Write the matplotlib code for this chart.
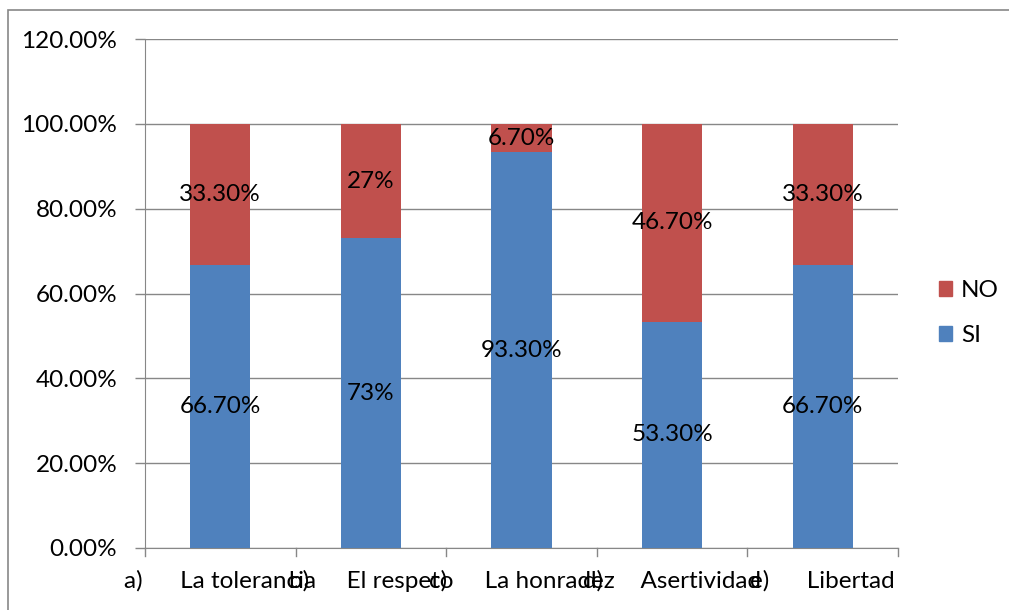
import matplotlib.pyplot as plt
from matplotlib.patches import Rectangle, Patch

plt.rcParams["font.family"] = ["Lato", "DejaVu Sans"]

# Chart data
letters = ["a)", "b)", "c)", "d)", "e)"]
names = ["La tolerancia", "El respeto", "La honradez", "Asertividad", "Libertad"]
si_values = [66.7, 73.0, 93.3, 53.3, 66.7]
no_values = [33.3, 27.0, 6.7, 46.7, 33.3]
si_labels = ["66.70%", "73%", "93.30%", "53.30%", "66.70%"]
no_labels = ["33.30%", "27%", "6.70%", "46.70%", "33.30%"]
y_ticks = [0, 20, 40, 60, 80, 100, 120]

blue = "#4F81BD"
red = "#C0504D"
gray = "#878787"
fs = 17.5

fig = plt.figure(figsize=(10.09, 6.10), dpi=100)
ax = fig.add_axes([145 / 1009, 1 - 548 / 610, (898 - 145) / 1009, (548 - 39) / 610])

x = list(range(len(names)))
ax.bar(x, si_values, width=0.4, color=blue, zorder=3)
ax.bar(x, no_values, width=0.4, bottom=si_values, color=red, zorder=3)

# value labels in the middle of each segment
for i in x:
    ax.text(i, si_values[i] / 2, si_labels[i], ha="center", va="center",
            fontsize=fs, zorder=4)
    ax.text(i, si_values[i] + no_values[i] / 2, no_labels[i], ha="center",
            va="center", fontsize=fs, zorder=4)

ax.set_xlim(-0.5, len(names) - 0.5)
ax.set_ylim(0, 120)
ax.set_yticks(y_ticks)
ax.set_yticklabels([f"{v:.2f}%" for v in y_ticks], fontsize=fs)
ax.yaxis.grid(True, color=gray, linewidth=1, zorder=0)

# category labels centred, tick marks between categories
ax.set_xticks(x)
ax.set_xticklabels([f"{l}      {n}" for l, n in zip(letters, names)], fontsize=fs)
ax.tick_params(axis="x", length=0, pad=16)
for b in [i - 0.5 for i in range(len(names) + 1)]:
    ax.plot([b, b], [0, -0.016], transform=ax.get_xaxis_transform(),
            color=gray, linewidth=1, clip_on=False)
ax.tick_params(axis="y", length=7, color=gray, width=1, pad=13)

for side in ["top", "right"]:
    ax.spines[side].set_visible(False)
ax.spines["left"].set_color(gray)
ax.spines["bottom"].set_color(gray)

handles = [Patch(color=red, label="NO"), Patch(color=blue, label="SI")]
fig.legend(handles=handles, loc="center left", bbox_to_anchor=(939 / 1009, 1 - 313 / 610),
           frameon=False, fontsize=fs, handlelength=0.55, handleheight=0.55,
           handletextpad=0.35, labelspacing=1.0, borderpad=0, borderaxespad=0)

# outer chart border (cropped on right and bottom)
fig.patches.append(Rectangle((8 / 1009, -0.1), 1.2, 1 - 10 / 610 + 0.1,
                             transform=fig.transFigure, fill=False,
                             edgecolor=gray, linewidth=1.2))

fig.savefig("out.png", dpi=100)
